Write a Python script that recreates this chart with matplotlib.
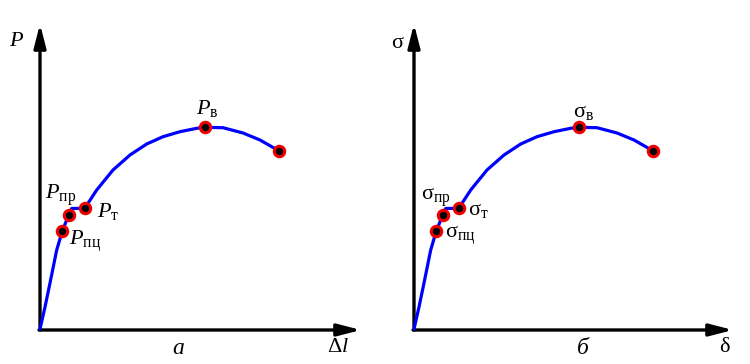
import matplotlib
matplotlib.use('Agg')
import matplotlib.pyplot as plt
import numpy as np

plt.rcParams['font.family'] = ['Liberation Serif', 'DejaVu Serif']
plt.rcParams['mathtext.fontset'] = 'custom'
plt.rcParams['mathtext.rm'] = 'Liberation Serif'
plt.rcParams['mathtext.it'] = 'Liberation Serif:italic'

# points (strain, load), origin at zero
curve_x = [0, 5, 10, 16.7, 22.3, 28.7, 31.7, 44.7, 56.7, 73, 90, 106.7,
           123, 140, 156.7, 165, 183, 203, 220, 230, 239]
curve_y = [0, 22, 46, 79, 98, 114, 120.5, 120.7, 139, 159, 174, 185,
           192.3, 197.3, 200.7, 201.7, 201.3, 196, 189, 183.3, 178]

# characteristic points: proportional, elastic, yield, ultimate, fracture
pts_x = [22.3, 28.7, 44.7, 165, 239]
pts_y = [98, 114, 120.7, 201.7, 178]

# label anchors (left, baseline)
lab_P = [(29, 84, r'$P_{\mathrm{пц}}$'), (5, 130, r'$P_{\mathrm{пр}}$'),
         (57, 112, r'$P_{\mathrm{т}}$'), (156, 215, r'$P_{\mathrm{в}}$')]
lab_s = [(31, 91, r'$\mathrm{σ}_{\mathrm{пц}}$'), (6.7, 129, r'$\mathrm{σ}_{\mathrm{пр}}$'),
         (54, 114, r'$\mathrm{σ}_{\mathrm{т}}$'), (158.7, 212, r'$\mathrm{σ}_{\mathrm{в}}$')]


def draw_panel(ax, x_end, labels, ylab, xlab, cap, xlim):
    ax.set_xlim(*xlim)
    ax.set_ylim(-35, 329)
    ax.axis('off')

    arrow = dict(arrowstyle='-|>,head_length=1.4,head_width=0.36',
                 lw=2.4, color='k', shrinkA=0, shrinkB=0)
    ax.annotate('', xy=(0, 305), xytext=(0, -1), arrowprops=arrow)
    ax.annotate('', xy=(x_end, -1), xytext=(-1, -1), arrowprops=arrow)

    ax.plot(curve_x, curve_y, color='#0000ff', lw=2.3, solid_capstyle='round',
            solid_joinstyle='round', zorder=3)
    ax.plot(pts_x, pts_y, 'o', ms=7.5, mfc='black', mec='#ee0000', mew=2.2,
            zorder=4)

    for x, y, s in labels:
        ax.text(x, y, s, fontsize=16, ha='left', va='baseline')

    ax.text(*ylab[:2], ylab[2], fontsize=16, ha='center', va='center')
    ax.text(*xlab[:2], xlab[2], fontsize=16, ha='center', va='center')
    ax.text(*cap[:2], cap[2], fontsize=17, ha='center', va='center',
            style='italic')


fig = plt.figure(figsize=(7.5, 3.64), dpi=100)
ax1 = fig.add_axes([0, 0, 0.5, 1])
ax2 = fig.add_axes([0.5, 0, 0.5, 1])

draw_panel(ax1, 321, lab_P, (-23, 287, r'$P$'), (298, -19, r'$\Delta l$'),
           (138, -19, 'а'), (-40, 335))
draw_panel(ax2, 319, lab_s, (-17, 285, 'σ'), (310, -19, 'δ'),
           (169, -19, 'б'), (-39, 336))

plt.savefig('out.png', dpi=100)
